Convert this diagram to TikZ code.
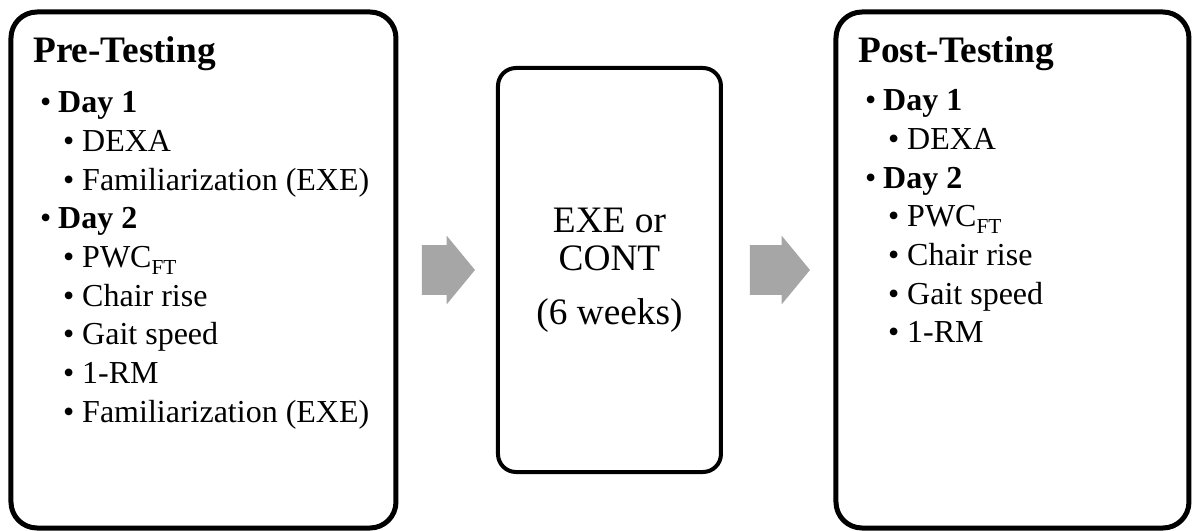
\documentclass[tikz,border=0pt]{standalone}
\usepackage{fontspec}
\setmainfont{Liberation Serif}
\usepackage{tikz}
\usetikzlibrary{positioning}
\usetikzlibrary{shapes.arrows}
\definecolor{arrowgray}{RGB}{166,166,166}
\tikzset{phase node/.style={draw,rounded corners=19.5pt,line width=3.75pt,outer sep=0pt,minimum width=288.75pt,minimum height=387pt},
         mid node/.style={draw,rounded corners=13.5pt,line width=3pt,outer sep=0pt,minimum width=167.25pt,minimum height=303pt,align=center,font=\fontsize{28}{28.5}\selectfont},
         title node/.style={inner sep=0pt,font=\fontsize{28}{33}\selectfont\bfseries},
         list node/.style={inner sep=0pt,align=left,font=\fontsize{24}{29}\selectfont},
         flow arrow/.style={single arrow,fill=arrowgray,inner xsep=0pt,inner ysep=18.4pt,single arrow head extend=7.1pt,single arrow tip angle=101,outer sep=0pt}
            }
\newcommand\dayitem[1]{\makebox[13.5pt][l]{\textbullet}\textbf{#1}}
\newcommand\testitem[1]{\hspace*{17.25pt}\makebox[14.25pt][l]{\textbullet}#1}
\newcommand\FTsub{\raisebox{-5pt}{\fontsize{16}{16}\selectfont FT}}

\begin{document}
\begin{tikzpicture}
 \useasboundingbox (0,0) rectangle (894.75pt,-398.25pt);
 \node[phase node] (pre) at (152.6pt,-202.5pt) {};
 \node[mid node] (mid)[right=76.5pt of pre] {EXE or\\CONT\\[12pt](6 weeks)};
 \node[phase node,minimum width=264.75pt] (post)[right=86.25pt of mid] {};

 \node[flow arrow,minimum height=39.75pt] (arr1)[right=19.5pt of pre] {};
 \node[flow arrow,minimum height=45pt] (arr2)[right=21.75pt of mid] {};

 % list nodes: base anchor sits on the last line
 \node[title node] (pretitle)[below right=38.25pt and 16.5pt of pre.north west,anchor=base west] {Pre-Testing};
 \node[list node] (prelist)[below right=307.5pt and 21.75pt of pre.north west,anchor=base west]
   {\dayitem{Day 1}\\ \testitem{DEXA}\\ \testitem{Familiarization (EXE)}\\
    \dayitem{Day 2}\\ \testitem{PWC\FTsub}\\ \testitem{Chair rise}\\
    \testitem{Gait speed}\\ \testitem{1-RM}\\ \testitem{Familiarization (EXE)}};

 \node[title node] (posttitle)[below right=38.25pt and 16.5pt of post.north west,anchor=base west] {Post-Testing};
 \node[list node] (postlist)[below right=248pt and 21.75pt of post.north west,anchor=base west]
   {\dayitem{Day 1}\\ \testitem{DEXA}\\ \dayitem{Day 2}\\
    \testitem{PWC\FTsub}\\ \testitem{Chair rise}\\ \testitem{Gait speed}\\ \testitem{1-RM}};
\end{tikzpicture}
\end{document}
